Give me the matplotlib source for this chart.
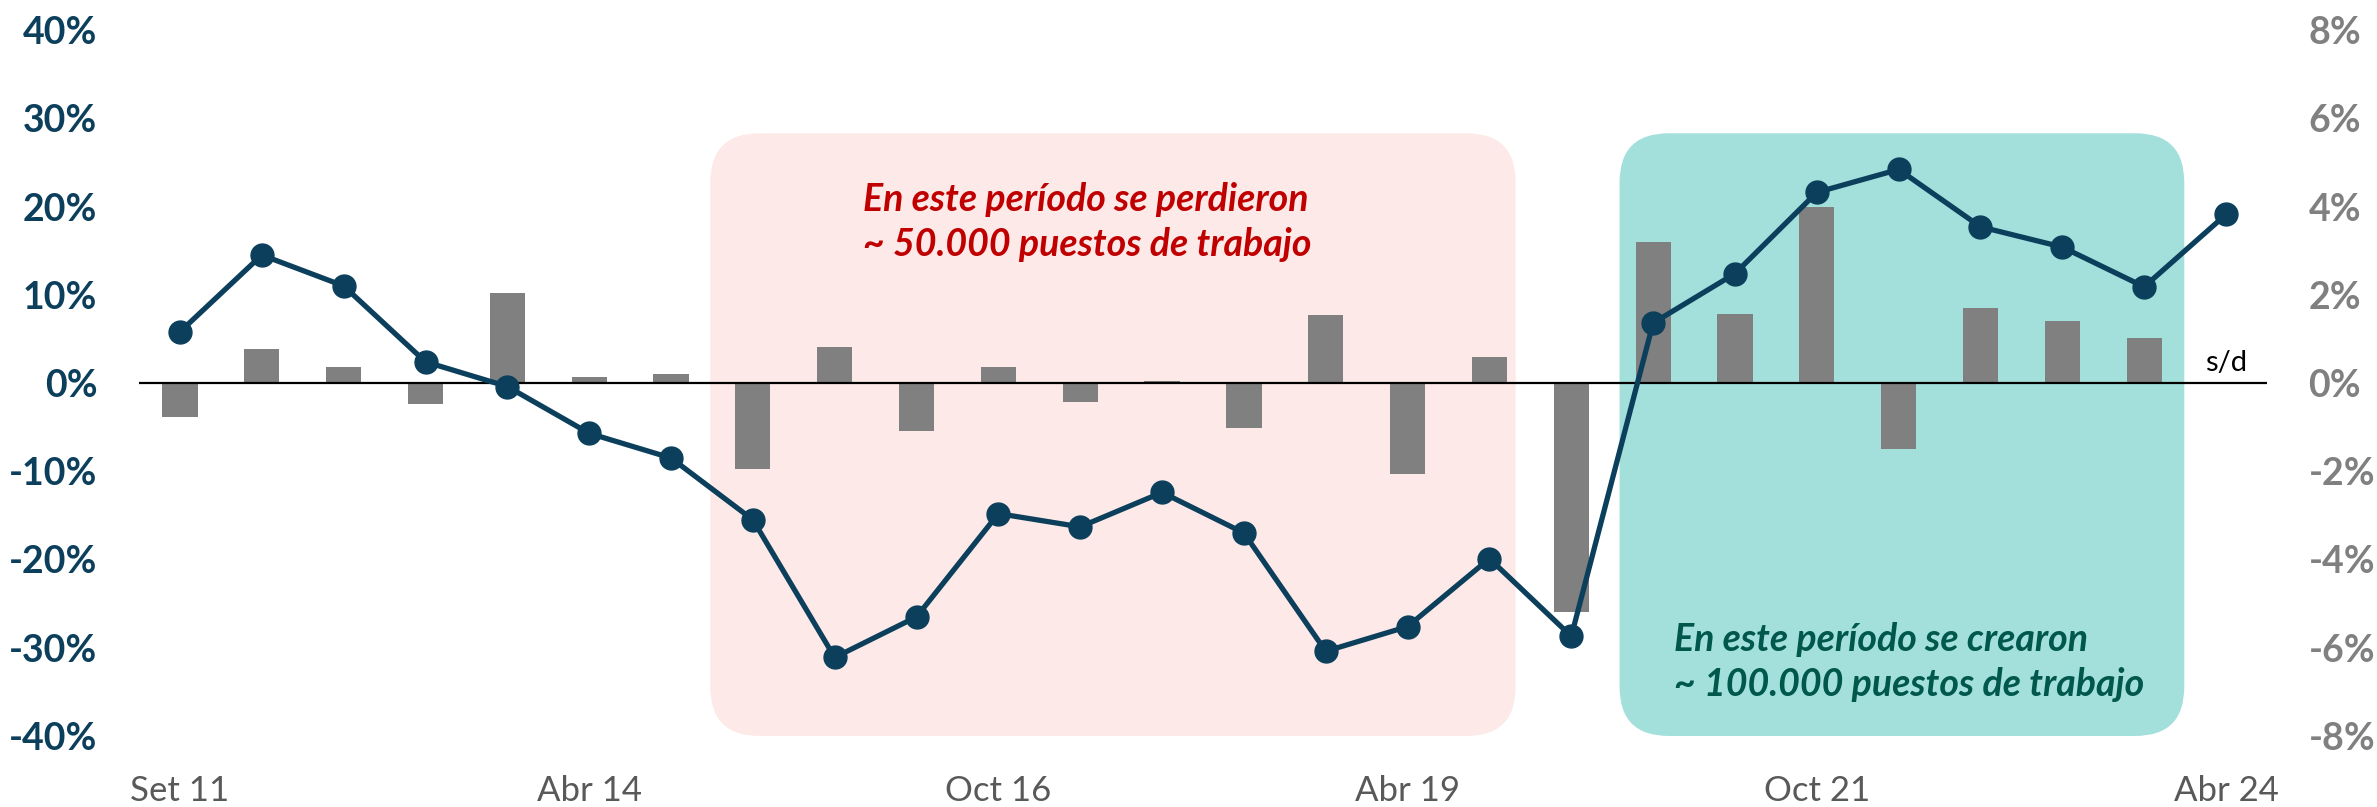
import numpy as np
import matplotlib
matplotlib.use('Agg')
import matplotlib.pyplot as plt
from matplotlib.patches import FancyBboxPatch

plt.rcParams['font.family'] = ['Lato', 'DejaVu Sans']

# semiannual series, 26 periods from Set 11 to Abr 24
line_vals = [5.8, 14.5, 11.0, 2.4, -0.4, -5.7, -8.5, -15.5, -31.1, -26.5,
             -14.8, -16.3, -12.4, -17.0, -30.4, -27.6, -19.9, -28.7,
             6.8, 12.4, 21.6, 24.2, 17.7, 15.4, 10.9, 19.1]
bar_vals = [-0.76, 0.76, 0.36, -0.48, 2.05, 0.14, 0.20, -1.95, 0.82, -1.08,
            0.37, -0.43, 0.05, -1.03, 1.54, -2.07, 0.58, -5.19,
            3.20, 1.56, 3.99, -1.50, 1.69, 1.40, 1.03, np.nan]
tick_pos = [0, 5, 10, 15, 20, 25]
tick_labels = ['Set 11', 'Abr 14', 'Oct 16', 'Abr 19', 'Oct 21', 'Abr 24']
left_ticks = [-40, -30, -20, -10, 0, 10, 20, 30, 40]
right_ticks = [-8, -6, -4, -2, 0, 2, 4, 6, 8]

navy = '#0B3F5C'
x = np.arange(len(line_vals))

fig = plt.figure(figsize=(23.77, 8.07), dpi=100)
ax = fig.add_axes([0.0585, 0.088, 0.8952, 0.8748])
ax2 = ax.twinx()
ax.set_zorder(ax2.get_zorder() + 1)
ax.patch.set_visible(False)
ax2.patch.set_visible(False)

ax.set_xlim(-0.5, 25.5)
ax.set_ylim(-40, 40)
ax2.set_ylim(-8, 8)

# shaded periods (rounded boxes), drawn on the bar axis, behind bars
asp = (81.9 / 8.83) / 5  # data-unit aspect for round corners on ax2
for x0, x1, col in [(6.48, 16.32, '#FDEAE8'), (17.59, 24.49, '#A3E0DB')]:
    box = FancyBboxPatch((x0, -8), x1 - x0, 5.66 + 8,
                         boxstyle='round,pad=0,rounding_size=0.6',
                         mutation_aspect=asp, fc=col, ec='none', zorder=0)
    ax2.add_patch(box)

ax2.bar(x, bar_vals, width=0.43, color='#808080', zorder=2)
ax2.axhline(0, color='black', lw=1.6, zorder=3)
ax2.text(25, 0.15, 's/d', ha='center', va='bottom', fontsize=21, color='black')

ax.plot(x, line_vals, color=navy, lw=3.8, marker='o', ms=16.5, zorder=4)

ax.text(8.34, 18.2, 'En este período se perdieron\n~ 50.000 puestos de trabajo',
        ha='left', va='center', fontsize=27, fontweight='bold', style='italic',
        color='#C00000', linespacing=1.35)
ax.text(18.25, -31.6, 'En este período se crearon\n~ 100.000 puestos de trabajo',
        ha='left', va='center', fontsize=27, fontweight='bold', style='italic',
        color='#00574B', linespacing=1.35)

ax.set_xticks(tick_pos)
ax.set_xticklabels(tick_labels)
ax.set_yticks(left_ticks)
ax.set_yticklabels([f'{v}%' for v in left_ticks])
ax2.set_yticks(right_ticks)
ax2.set_yticklabels([f'{v}%' for v in right_ticks])

ax.tick_params(axis='x', length=0, pad=28, labelsize=25, labelcolor='#595959')
ax.tick_params(axis='y', length=0, pad=30, labelsize=27, labelcolor=navy)
ax2.tick_params(axis='y', length=0, pad=30, labelsize=27, labelcolor='#808080')
for t in ax.get_yticklabels() + ax2.get_yticklabels():
    t.set_fontweight('bold')

for a in (ax, ax2):
    for s in a.spines.values():
        s.set_visible(False)

fig.savefig('out.png', dpi=100, facecolor='white')
